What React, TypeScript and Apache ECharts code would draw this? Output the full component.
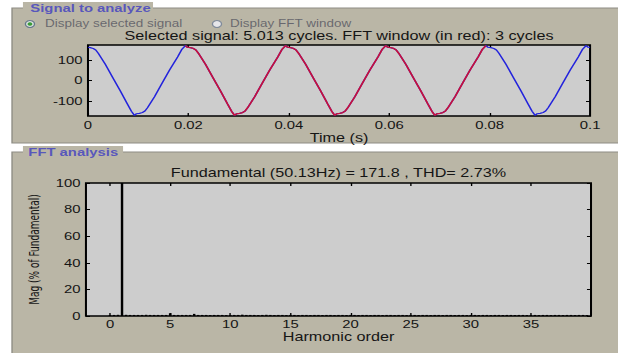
import React, { useEffect, useRef } from "react";
import * as echarts from "echarts";

// ---- data ----
const signalTime = [
  0, 0.00045, 0.00105, 0.00155, 0.00205, 0.00345, 0.00495, 0.00645, 0.00785, 0.00865, 0.00925,
  0.00965, 0.01025, 0.01085, 0.01135, 0.01185, 0.01325, 0.01475, 0.01625, 0.01785, 0.01865,
  0.0194, 0.0198, 0.0204, 0.021, 0.0215, 0.022, 0.0234, 0.0249, 0.0264, 0.0278, 0.0286,
  0.0292, 0.0296, 0.0302, 0.0308, 0.0313, 0.0318, 0.0332, 0.0347, 0.0362, 0.0378, 0.0386,
  0.03935, 0.03975, 0.04035, 0.04095, 0.04145, 0.04195, 0.04335, 0.04485, 0.04635, 0.04775, 0.04855,
  0.04915, 0.04955, 0.05015, 0.05075, 0.05125, 0.05175, 0.05315, 0.05465, 0.05615, 0.05775, 0.05855,
  0.0593, 0.0597, 0.0603, 0.0609, 0.0614, 0.0619, 0.0633, 0.0648, 0.0663, 0.0677, 0.0685,
  0.0691, 0.0695, 0.0701, 0.0707, 0.0712, 0.0717, 0.0731, 0.0746, 0.0761, 0.0777, 0.0785,
  0.07925, 0.07965, 0.08025, 0.08085, 0.08135, 0.08185, 0.08325, 0.08475, 0.08625, 0.08765, 0.08845,
  0.08905, 0.08945, 0.09005, 0.09065, 0.09115, 0.09165, 0.09305, 0.09455, 0.09605, 0.09765, 0.09845,
  0.0992, 0.0996, 0.1,
];
const signalValue = [
  164, 162, 158, 150, 134, 80, 14, -52, -116, -152, -172,
  -164, -162, -158, -150, -134, -80, -14, 52, 116, 152,
  172, 164, 162, 158, 150, 134, 80, 14, -52, -116, -152,
  -172, -164, -162, -158, -150, -134, -80, -14, 52, 116, 152,
  172, 164, 162, 158, 150, 134, 80, 14, -52, -116, -152,
  -172, -164, -162, -158, -150, -134, -80, -14, 52, 116, 152,
  172, 164, 162, 158, 150, 134, 80, 14, -52, -116, -152,
  -172, -164, -162, -158, -150, -134, -80, -14, 52, 116, 152,
  172, 164, 162, 158, 150, 134, 80, 14, -52, -116, -152,
  -172, -164, -162, -158, -150, -134, -80, -14, 52, 116, 152,
  172, 164, 163,
];
const fftWindowStart = 0.0194;
const fftWindowEnd = 0.07925;

const timeTicks = [0, 0.02, 0.04, 0.06, 0.08, 0.1];
const signalTicks = [-100, 0, 100];
const harmonicTicks = [0, 5, 10, 15, 20, 25, 30, 35];
const magTicks = [0, 20, 40, 60, 80, 100];

// FFT bins: 3 bins per harmonic order (index / 3 = harmonic order)
const binsPerOrder = 3;
const harmonicMag = [
  0.8, 0.8, 0.9, 100, 0.9, 0.8, 0.8, 0.8, 0.8, 0.9, 0.8, 0.8,
  0.8, 0.8, 0.8, 2.1, 0.8, 0.8, 0.8, 0.8, 0.8, 1.6, 0.8, 0.8,
  0.8, 0.7, 0.8, 0.8, 0.8, 0.7, 0.8, 0.8, 0.8, 1.0, 0.8, 0.8,
  0.8, 0.7, 0.8, 0.9, 0.8, 0.7, 0.8, 0.8, 0.7, 0.8, 0.8, 0.7,
  0.8, 0.8, 0.7, 0.8, 0.8, 0.7, 0.8, 0.8, 0.7, 0.8, 0.8, 0.7,
  0.8, 0.8, 0.7, 0.8, 0.8, 0.7, 0.8, 0.8, 0.7, 0.8, 0.8, 0.7,
  0.8, 0.8, 0.7, 0.8, 0.8, 0.7, 0.8, 0.8, 0.7, 0.8, 0.8, 0.7,
  0.8, 0.8, 0.7, 0.8, 0.8, 0.7, 0.8, 0.8, 0.7, 0.8, 0.8, 0.7,
  0.8, 0.8, 0.7, 0.8, 0.8, 0.7, 0.8, 0.8, 0.7, 0.8, 0.8, 0.7,
  0.8, 0.8, 0.7, 0.8, 0.8, 0.7, 0.8, 0.8, 0.7, 0.8, 0.8, 0.7,
];

const topTitle = "Selected signal: 5.013 cycles. FFT window (in red): 3 cycles";
const bottomTitle = "Fundamental (50.13Hz) = 171.8 , THD= 2.73%";
const panel1Title = "Signal to analyze";
const panel2Title = "FFT analysis";
const radio1Label = "Display selected signal";
const radio2Label = "Display FFT window";

// ---- layout (the reference is horizontally stretched) ----
const PAGE_W = 618;
const PAGE_H = 353;
const CHART_W = 458;
const STRETCH = PAGE_W / CHART_W;

const FONT = "'Liberation Sans', Arial, Helvetica, sans-serif";
const NARROW_FONT = "'Liberation Sans Narrow', 'Arial Narrow', 'DejaVu Sans Condensed', sans-serif";
const PANEL_BG = "#bab6a6";
const PLOT_BG = "#cdcdcd";

const g1 = { left: 65.2, top: 45, width: 372.1, height: 71 };
const g2 = { left: 63.7, top: 183, width: 374.3, height: 133 };

function tickAxisCommon(ticks: number[]) {
  return {
    axisLine: { show: false, onZero: false },
    axisTick: { show: true, inside: true, length: 3, customValues: ticks, lineStyle: { color: "#000", width: 1 } },
    splitLine: { show: false },
  };
}

export default function App() {
  const ref = useRef<HTMLDivElement>(null);

  useEffect(() => {
    if (!ref.current) return;
    const chart = echarts.init(ref.current, undefined, { renderer: "svg", width: CHART_W, height: PAGE_H });

    const full = signalTime.map((t, i) => [t, signalValue[i]]);
    const windowed = full.filter((p) => p[0] >= fftWindowStart - 1e-9 && p[0] <= fftWindowEnd + 1e-9);
    const bars = harmonicMag.map((m, i) => [i / binsPerOrder, m]);

    const labelStyle = { fontSize: 11, color: "#151515", fontFamily: FONT };
    const panelTitleStyle = { fill: "#3d3dc2", fontSize: 11, fontWeight: "bold", fontFamily: FONT, verticalAlign: "middle", opacity: 0.8 };
    const radioStyle = { fill: "#595964", fontSize: 10, fontFamily: FONT, verticalAlign: "middle", opacity: 0.85 };

    chart.setOption({
      animation: false,
      backgroundColor: "#ffffff",
      grid: [
        { ...g1, show: true, backgroundColor: PLOT_BG, borderColor: "#000", borderWidth: 1.5 },
        { ...g2, show: true, backgroundColor: PLOT_BG, borderColor: "#000", borderWidth: 1.5 },
      ],
      xAxis: [
        {
          type: "value", gridIndex: 0, min: 0, max: 0.1, position: "bottom",
          ...tickAxisCommon(timeTicks),
          axisLabel: {
            ...labelStyle, margin: 4, customValues: timeTicks,
            formatter: (v: number) => String(Math.round(v * 100) / 100),
          },
          name: "Time (s)", nameLocation: "middle", nameGap: 15,
          nameTextStyle: { fontSize: 12, color: "#151515", fontFamily: FONT },
        },
        {
          type: "value", gridIndex: 0, min: 0, max: 0.1, position: "top",
          ...tickAxisCommon(timeTicks), axisLabel: { show: false },
        },
        {
          type: "value", gridIndex: 1, min: -2, max: 40, position: "bottom",
          ...tickAxisCommon(harmonicTicks),
          axisLabel: { ...labelStyle, margin: 3, customValues: harmonicTicks },
          name: "Harmonic order", nameLocation: "middle", nameGap: 14,
          nameTextStyle: { fontSize: 12, color: "#151515", fontFamily: FONT },
        },
        {
          type: "value", gridIndex: 1, min: -2, max: 40, position: "top",
          ...tickAxisCommon(harmonicTicks), axisLabel: { show: false },
        },
      ],
      yAxis: [
        {
          type: "value", gridIndex: 0, min: -175, max: 175, position: "left",
          ...tickAxisCommon(signalTicks),
          axisLabel: { ...labelStyle, margin: 4, customValues: signalTicks },
        },
        {
          type: "value", gridIndex: 0, min: -175, max: 175, position: "right",
          ...tickAxisCommon(signalTicks), axisLabel: { show: false },
        },
        {
          type: "value", gridIndex: 1, min: 0, max: 100, position: "left",
          ...tickAxisCommon(magTicks),
          axisLabel: { ...labelStyle, margin: 4, customValues: magTicks },
          name: "Mag (% of Fundamental)", nameLocation: "middle", nameGap: 32,
          nameTextStyle: { fontSize: 10, color: "#151515", fontFamily: NARROW_FONT },
        },
        {
          type: "value", gridIndex: 1, min: 0, max: 100, position: "right",
          ...tickAxisCommon(magTicks), axisLabel: { show: false },
        },
      ],
      series: [
        {
          name: "Selected signal", type: "line", xAxisIndex: 0, yAxisIndex: 0,
          data: full, showSymbol: false, symbol: "none",
          lineStyle: { color: "#2323dc", width: 1.2 }, z: 3,
        },
        {
          name: "FFT window", type: "line", xAxisIndex: 0, yAxisIndex: 0,
          data: windowed, showSymbol: false, symbol: "none",
          lineStyle: { color: "#c8103a", width: 1.3 }, z: 4,
        },
        {
          name: "Harmonics", type: "bar", xAxisIndex: 2, yAxisIndex: 2,
          data: bars, barWidth: 1.8, itemStyle: { color: "#000" }, z: 3,
        },
      ],
      graphic: [
        { type: "rect", z: -10, shape: { x: 8.9, y: 8, width: 460, height: 135 }, style: { fill: PANEL_BG, stroke: "#8e8c84", lineWidth: 1 } },
        { type: "rect", z: -10, shape: { x: 8.9, y: 152, width: 460, height: 220 }, style: { fill: PANEL_BG, stroke: "#8e8c84", lineWidth: 1 } },
        { type: "rect", z: -9, shape: { x: 17, y: 2, width: 96.4, height: 13 }, style: { fill: PANEL_BG } },
        { type: "rect", z: -9, shape: { x: 17, y: 146, width: 74.2, height: 12 }, style: { fill: PANEL_BG } },
        { type: "text", z: -8, x: 22.5, y: 8.5, style: { text: panel1Title, ...panelTitleStyle } },
        { type: "text", z: -8, x: 21, y: 152, style: { text: panel2Title, ...panelTitleStyle } },
        { type: "circle", z: -8, shape: { cx: 22.2, cy: 24, r: 3.4 }, style: { fill: "#dfe6e0", stroke: "#66788c", lineWidth: 1 } },
        { type: "circle", z: -8, shape: { cx: 22.2, cy: 24, r: 1.8 }, style: { fill: "#3a9a3a" } },
        { type: "text", z: -8, x: 33.4, y: 24, style: { text: radio1Label, ...radioStyle } },
        { type: "circle", z: -8, shape: { cx: 160.8, cy: 24, r: 3.4 }, style: { fill: "#e6e6ea", stroke: "#7f8a9a", lineWidth: 1 } },
        { type: "text", z: -8, x: 170.5, y: 24, style: { text: radio2Label, ...radioStyle } },
        { type: "text", z: 10, x: g1.left + g1.width / 2, y: 36, style: { text: topTitle, fill: "#151515", fontSize: 12, fontFamily: FONT, align: "center", verticalAlign: "middle" } },
        { type: "text", z: 10, x: g2.left + g2.width / 2, y: 173, style: { text: bottomTitle, fill: "#151515", fontSize: 12, fontFamily: FONT, align: "center", verticalAlign: "middle" } },
      ],
    });

    return () => chart.dispose();
  }, []);

  return (
    <div style={{ position: "fixed", left: 0, top: 0, width: PAGE_W, height: PAGE_H, overflow: "hidden", background: "#fff" }}>
      <div
        ref={ref}
        style={{ width: CHART_W, height: PAGE_H, transform: `scaleX(${STRETCH})`, transformOrigin: "0 0" }}
      />
    </div>
  );
}
